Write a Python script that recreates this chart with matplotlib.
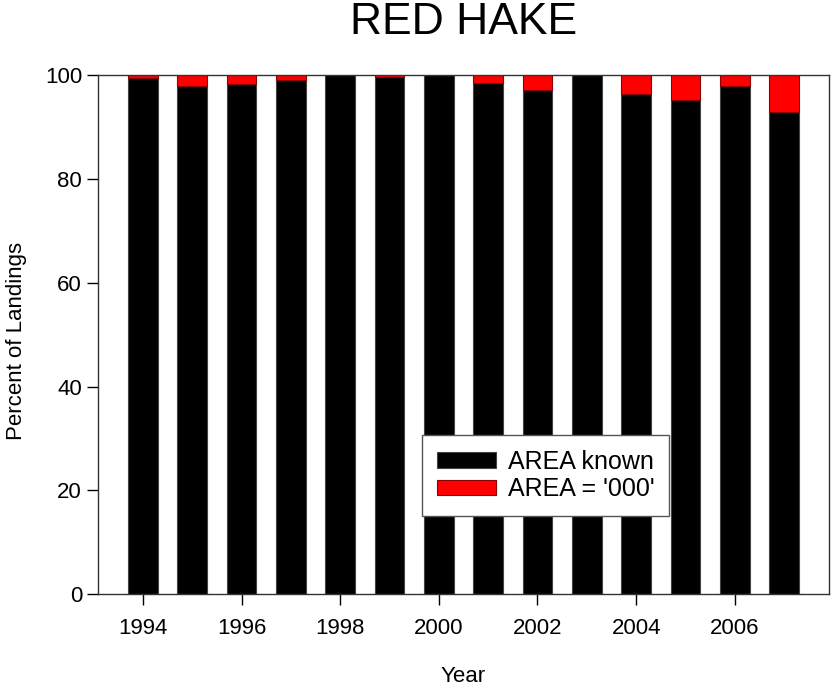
import numpy as np
import matplotlib.pyplot as plt

plt.rcParams['font.family'] = ['Liberation Sans', 'DejaVu Sans']

years = np.arange(1994, 2008)
area_known = [99.5, 98.0, 98.3, 99.0, 100.0, 99.7, 100.0, 98.5, 97.1, 100.0, 96.4, 95.2, 97.9, 92.9]
area_000 = [100 - v for v in area_known]

fig = plt.figure(figsize=(8.32, 6.9), dpi=100)
ax = fig.add_axes([0.1178, 0.139, 0.8786, 0.752])

ax.bar(years, area_known, width=0.6, color='black', edgecolor='#444444', linewidth=0.8,
       label='AREA known')
ax.bar(years, area_000, width=0.6, bottom=area_known, color='red', edgecolor='#8b0000',
       linewidth=0.8, label="AREA = '000'")

ax.set_xlim(1993.09, 2007.91)
ax.set_ylim(0, 100)
ax.set_xticks(np.arange(1994, 2007, 2))
ax.set_yticks(np.arange(0, 101, 20))
ax.tick_params(axis='both', labelsize=16, length=8, width=1, direction='out')
ax.tick_params(axis='x', pad=9)
for s in ax.spines.values():
    s.set_color('#333333')
    s.set_linewidth(1)

ax.set_title('RED HAKE', fontsize=32, pad=30)
ax.set_ylabel('Percent of Landings', fontsize=16, labelpad=13)
ax.yaxis.label.set_y(0.487)
ax.set_xlabel('Year', fontsize=16, labelpad=20)

leg = ax.legend(loc='lower left', bbox_to_anchor=(0.443, 0.15), fontsize=18,
                frameon=True, fancybox=False, framealpha=1, borderaxespad=0,
                handlelength=2.36, handleheight=0.6, borderpad=0.6,
                labelspacing=0.15, handletextpad=0.48)
leg.get_frame().set_edgecolor('#555555')
leg.get_frame().set_linewidth(1)

fig.savefig('out.png', dpi=100)
